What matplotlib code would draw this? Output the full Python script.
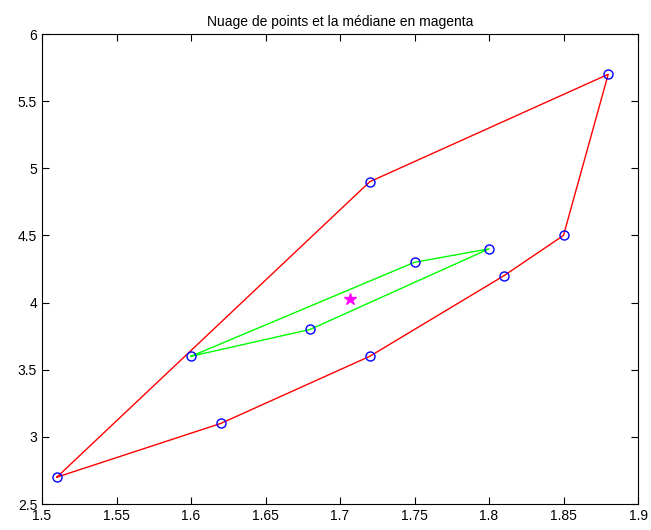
import matplotlib
matplotlib.use('Agg')
import matplotlib.pyplot as plt

# enveloppe externe (rouge)
hull_x = [1.51, 1.62, 1.72, 1.81, 1.85, 1.88, 1.72, 1.51]
hull_y = [2.7, 3.1, 3.6, 4.2, 4.5, 5.7, 4.9, 2.7]

# enveloppe interne (vert)
inner_x = [1.60, 1.68, 1.80, 1.75, 1.60]
inner_y = [3.6, 3.8, 4.4, 4.3, 3.6]

# mediane
med_x = [1.707]
med_y = [4.03]

plt.rcParams['font.family'] = ['Liberation Sans', 'DejaVu Sans']
plt.rcParams['font.size'] = 10

fig = plt.figure(figsize=(6.51, 5.30), dpi=100)
ax = fig.add_axes([42 / 651, 1 - 504 / 530, 596 / 651, 470 / 530])

ax.plot(hull_x, hull_y, color='red', linewidth=1)
ax.plot(inner_x, inner_y, color='#00ff00', linewidth=1)
ax.plot(hull_x[:-1], hull_y[:-1], 'o', markerfacecolor='none', markeredgecolor='blue',
        markersize=6.5, markeredgewidth=1)
ax.plot(inner_x[:-1], inner_y[:-1], 'o', markerfacecolor='none', markeredgecolor='blue',
        markersize=6.5, markeredgewidth=1)
ax.plot(med_x, med_y, '*', color='magenta', markersize=9)

ax.set_xlim(1.5, 1.9)
ax.set_ylim(2.5, 6)
ax.set_xticks([1.5, 1.55, 1.6, 1.65, 1.7, 1.75, 1.8, 1.85, 1.9])
ax.set_xticklabels(['1.5', '1.55', '1.6', '1.65', '1.7', '1.75', '1.8', '1.85', '1.9'])
ax.set_yticks([2.5, 3, 3.5, 4, 4.5, 5, 5.5, 6])
ax.set_yticklabels(['2.5', '3', '3.5', '4', '4.5', '5', '5.5', '6'])
ax.tick_params(direction='in', top=True, right=True, length=5, labelsize=10)
ax.set_title('Nuage de points et la médiane en magenta', fontsize=10)

fig.savefig('out.png', dpi=100)
